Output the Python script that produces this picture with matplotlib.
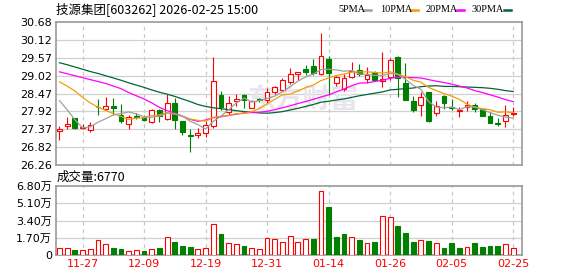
import matplotlib
matplotlib.use('Agg')
import matplotlib.pyplot as plt
import numpy as np

plt.rcParams['font.family'] = ['DejaVu Sans', 'Noto Sans CJK SC']

# ---- data ----
tick_idx = [3, 11, 19, 27, 35, 43, 51, 59]
tick_labels = ['11-27', '12-09', '12-19', '12-31', '01-14', '01-26', '02-05', '02-25']

opens = [27.32, 27.46, 27.70, 27.39, 27.33, 28.06, 28.00, 28.08, 27.82, 27.53,
         27.77, 27.70, 27.60, 27.97, 27.69, 28.18, 27.61, 27.20, 27.19, 27.25,
         27.48, 28.42, 27.89, 28.25, 28.43, 28.03, 28.30, 28.28, 28.51, 28.57,
         28.83, 29.07, 29.22, 29.33, 29.06, 29.54, 28.80, 28.62, 28.98, 29.19,
         28.92, 29.10, 28.85, 28.98, 29.61, 28.81, 28.25, 28.12, 28.53, 27.87,
         28.38, 28.05, 27.93, 28.05, 28.13, 27.99, 27.78, 27.56, 27.62, 27.84]
highs = [27.48, 27.75, 27.70, 27.54, 27.59, 28.31, 28.36, 28.33, 28.16, 27.80,
         27.87, 27.82, 27.99, 27.99, 28.44, 28.32, 27.61, 27.36, 27.41, 27.61,
         29.60, 28.54, 28.40, 28.46, 28.45, 28.28, 28.34, 28.65, 28.69, 28.95,
         29.25, 29.15, 29.36, 29.53, 30.35, 29.63, 29.02, 29.07, 29.44, 29.39,
         29.29, 29.18, 29.74, 29.58, 29.63, 29.41, 28.38, 28.53, 28.53, 28.23,
         28.42, 28.31, 28.05, 28.23, 28.18, 28.03, 27.90, 27.72, 28.13, 28.05]
lows = [27.03, 27.36, 27.36, 27.36, 27.29, 27.80, 27.97, 27.80, 27.56, 27.36,
        27.68, 27.63, 27.56, 27.58, 27.64, 27.38, 27.20, 26.66, 27.08, 27.13,
        27.40, 27.95, 27.82, 28.07, 28.03, 28.01, 28.21, 28.18, 28.47, 28.54,
        28.77, 28.89, 29.03, 29.05, 29.03, 28.43, 28.71, 28.56, 28.95, 29.00,
        28.81, 28.86, 28.66, 28.88, 28.37, 28.26, 27.91, 27.77, 27.58, 27.77,
        28.00, 27.97, 27.73, 27.92, 27.91, 27.77, 27.56, 27.48, 27.44, 27.79]
closes = [27.36, 27.53, 27.39, 27.43, 27.51, 28.04, 28.08, 28.01, 27.63, 27.73,
          27.73, 27.66, 27.95, 27.76, 28.18, 27.66, 27.28, 27.17, 27.25, 27.50,
          28.86, 28.05, 28.18, 28.29, 28.27, 28.24, 28.27, 28.52, 28.66, 28.89,
          29.07, 29.13, 29.14, 29.10, 29.63, 29.10, 28.98, 28.96, 29.18, 29.08,
          29.05, 28.90, 28.92, 29.51, 28.94, 28.26, 27.95, 28.36, 27.61, 28.07,
          28.17, 28.02, 27.96, 28.10, 28.00, 27.79, 27.57, 27.53, 27.80, 27.87]

# volume in 万 (10k) shares, and bar colour (1 = red / rising)
volumes = [0.68, 0.66, 0.49, 0.46, 0.56, 1.45, 1.05, 0.69, 0.59, 0.36,
           0.46, 0.39, 0.56, 0.69, 1.74, 1.28, 0.89, 0.79, 0.56, 0.66,
           3.04, 2.07, 1.15, 1.05, 0.89, 0.66, 0.56, 1.64, 1.55, 1.30,
           1.86, 1.27, 1.57, 1.57, 6.31, 4.72, 1.76, 2.08, 1.76, 1.48,
           1.15, 1.28, 3.84, 3.72, 2.86, 2.17, 1.28, 1.47, 1.38, 1.15,
           0.67, 1.18, 0.69, 0.77, 1.18, 0.79, 0.89, 0.89, 1.07, 0.677]
vol_up = [1, 1, 0, 1, 1, 1, 1, 0, 0, 1,
          1, 0, 1, 0, 1, 0, 0, 0, 1, 1,
          1, 0, 1, 1, 0, 1, 1, 1, 1, 1,
          1, 1, 1, 0, 1, 0, 0, 0, 1, 0,
          1, 0, 1, 1, 0, 0, 0, 1, 0, 1,
          0, 0, 0, 1, 0, 0, 0, 0, 1, 1]

ma5 = [28.25, 27.97, 27.66, 27.41, 27.44, 27.58, 27.69, 27.81, 27.85, 27.90,
       27.84, 27.75, 27.74, 27.77, 27.86, 27.84, 27.77, 27.61, 27.51, 27.37,
       27.61, 27.77, 27.97, 28.18, 28.33, 28.21, 28.25, 28.32, 28.39, 28.52,
       28.68, 28.85, 28.98, 29.07, 29.21, 29.22, 29.20, 29.16, 29.18, 29.07,
       29.06, 29.03, 29.03, 29.09, 29.06, 28.91, 28.72, 28.60, 28.22, 28.05,
       28.03, 28.05, 27.97, 28.06, 28.05, 27.97, 27.88, 27.80, 27.74, 27.71]
ma10 = [28.83, 28.70, 28.55, 28.35, 28.18, 28.05, 27.95, 27.85, 27.76, 27.67,
        27.71, 27.72, 27.78, 27.81, 27.88, 27.84, 27.76, 27.68, 27.64, 27.62,
        27.73, 27.77, 27.79, 27.85, 27.85, 27.91, 28.01, 28.15, 28.29, 28.43,
        28.45, 28.55, 28.65, 28.73, 28.87, 28.95, 29.03, 29.07, 29.13, 29.14,
        29.14, 29.12, 29.10, 29.14, 29.07, 28.99, 28.88, 28.82, 28.66, 28.56,
        28.47, 28.39, 28.29, 28.14, 28.05, 28.00, 27.97, 27.89, 27.90, 27.88]
ma20 = [29.14, 29.08, 29.02, 28.96, 28.90, 28.84, 28.78, 28.70, 28.62, 28.50,
        28.40, 28.30, 28.18, 28.04, 27.94, 27.86, 27.77, 27.67, 27.61, 27.65,
        27.72, 27.75, 27.79, 27.83, 27.87, 27.88, 27.89, 27.92, 27.97, 28.03,
        28.09, 28.16, 28.22, 28.29, 28.36, 28.43, 28.52, 28.61, 28.71, 28.79,
        28.80, 28.84, 28.88, 28.94, 28.97, 28.97, 28.96, 28.95, 28.90, 28.85,
        28.81, 28.76, 28.70, 28.64, 28.56, 28.50, 28.43, 28.36, 28.28, 28.22]
ma30 = [29.42, 29.36, 29.29, 29.22, 29.15, 29.09, 29.02, 28.95, 28.88, 28.80,
        28.73, 28.66, 28.58, 28.51, 28.45, 28.38, 28.30, 28.22, 28.13, 28.07,
        28.03, 28.00, 27.97, 27.94, 27.91, 27.89, 27.87, 27.86, 27.88, 27.91,
        27.96, 28.01, 28.07, 28.13, 28.20, 28.23, 28.27, 28.30, 28.35, 28.40,
        28.44, 28.48, 28.52, 28.58, 28.60, 28.62, 28.64, 28.68, 28.70, 28.71,
        28.69, 28.69, 28.68, 28.67, 28.66, 28.65, 28.63, 28.60, 28.56, 28.53]

price_ticks = ['30.68', '30.12', '29.57', '29.02', '28.47', '27.92', '27.37', '26.82', '26.26']
vol_ticks = [0, 1.7, 3.4, 5.1, 6.8]
vol_tick_labels = ['0', '1.70万', '3.40万', '5.10万', '6.80万']
ma_labels = ['5PMA', '10PMA', '20PMA', '30PMA']

# ---- style ----
RED = '#ff0000'
GREEN = '#008000'
C_MA5 = '#a0a0a0'
C_MA10 = '#f0a000'
C_MA20 = '#ff00ff'
C_MA30 = '#006633'
FRAME = '#999999'
GRID = '#d0d0d0'

W, H = 578, 276
fig = plt.figure(figsize=(W / 100, H / 100), dpi=100)
fig.patch.set_facecolor('white')


def px_axes(left, top, right, bottom):
    return fig.add_axes([left / W, 1 - bottom / H, (right - left) / W, (bottom - top) / H])


axP = px_axes(56, 22, 522, 165)
axV = px_axes(56, 186, 522, 255)

n = len(closes)
x = np.arange(n)
XLIM = (-0.45, 60.15)

for ax in (axP, axV):
    ax.set_xlim(*XLIM)
    for s in ax.spines.values():
        s.set_color(FRAME)
        s.set_linewidth(1.2)
    ax.tick_params(length=0, labelsize=8, pad=3)
    ax.set_xticks(tick_idx)
    for t in tick_idx:
        ax.axvline(t, color='#c8c8c8', lw=0.9, ls=(0, (3, 3)), zorder=0)

# ---- price panel ----
ymin, ymax = 26.26, 30.68
axP.set_ylim(ymin, ymax)
yt = np.linspace(ymax, ymin, len(price_ticks))
axP.set_yticks(yt)
axP.set_yticklabels(price_ticks)
for v in yt[1:-1]:
    axP.axhline(v, color=GRID, lw=0.9, zorder=0)
axP.set_xticklabels([])

# watermark
axP.text(0.53, 0.46, '东方财富', transform=axP.transAxes, ha='center', va='center',
         fontsize=20, fontweight='bold', color='#e6e6ec', zorder=0.5,
         family=['Noto Sans CJK SC'])

bw = 0.62
for i in range(n):
    o, h, l, c = opens[i], highs[i], lows[i], closes[i]
    up = c > o
    col = RED if up else GREEN
    axP.vlines(x[i], l, h, color=col, lw=0.8, zorder=2)
    lo = min(o, c)
    hgt = max(abs(c - o), 0.012)
    axP.bar(x[i], hgt, bw, bottom=lo, facecolor='white' if up else GREEN,
            edgecolor=col, linewidth=0.8, zorder=3)

ma_series = [ma5, ma10, ma20, ma30]
ma_colors = [C_MA5, C_MA10, C_MA20, C_MA30]
for vals, col in zip(ma_series[::-1], ma_colors[::-1]):
    axP.plot(x, vals, color=col, lw=0.9, zorder=4)

# ---- volume panel ----
axV.set_ylim(0, 6.8)
axV.set_yticks(vol_ticks)
axV.set_yticklabels(vol_tick_labels)
for v in vol_ticks[1:-1]:
    axV.axhline(v, color=GRID, lw=0.9, zorder=0)
axV.set_xticklabels(tick_labels, color=RED)
for i in range(n):
    if vol_up[i]:
        axV.bar(x[i], volumes[i], bw, facecolor='white', edgecolor=RED, linewidth=0.8, zorder=3)
    else:
        axV.bar(x[i], volumes[i], bw, facecolor=GREEN, edgecolor=GREEN, linewidth=0.8, zorder=3)

# ---- texts ----
fig.text(56 / W, 1 - 9 / H, '技源集团[603262] 2026-02-25 15:00', ha='left', va='center',
         fontsize=9, family=['Noto Sans CJK SC', 'DejaVu Sans'])
fig.text(57 / W, 1 - 177 / H, '成交量:%d' % round(volumes[-1] * 10000), ha='left', va='center',
         fontsize=9, family=['Noto Sans CJK SC', 'DejaVu Sans'])

# legend: label left edge and dash span in pixels
label_x = [338, 380, 426, 472]
dash_x = [(364, 371), (411, 418), (457, 464), (504, 511)]
for label, col, lx, (d0, d1) in zip(ma_labels, ma_colors, label_x, dash_x):
    fig.text(lx / W, 1 - 9 / H, label, ha='left', va='center', fontsize=7.4,
             family=['Liberation Serif'])
    fig.lines.append(plt.Line2D([d0 / W, d1 / W], [1 - 9.5 / H, 1 - 9.5 / H],
                                color=col, lw=1.8, transform=fig.transFigure))

fig.savefig('out.png', dpi=100, facecolor='white')
